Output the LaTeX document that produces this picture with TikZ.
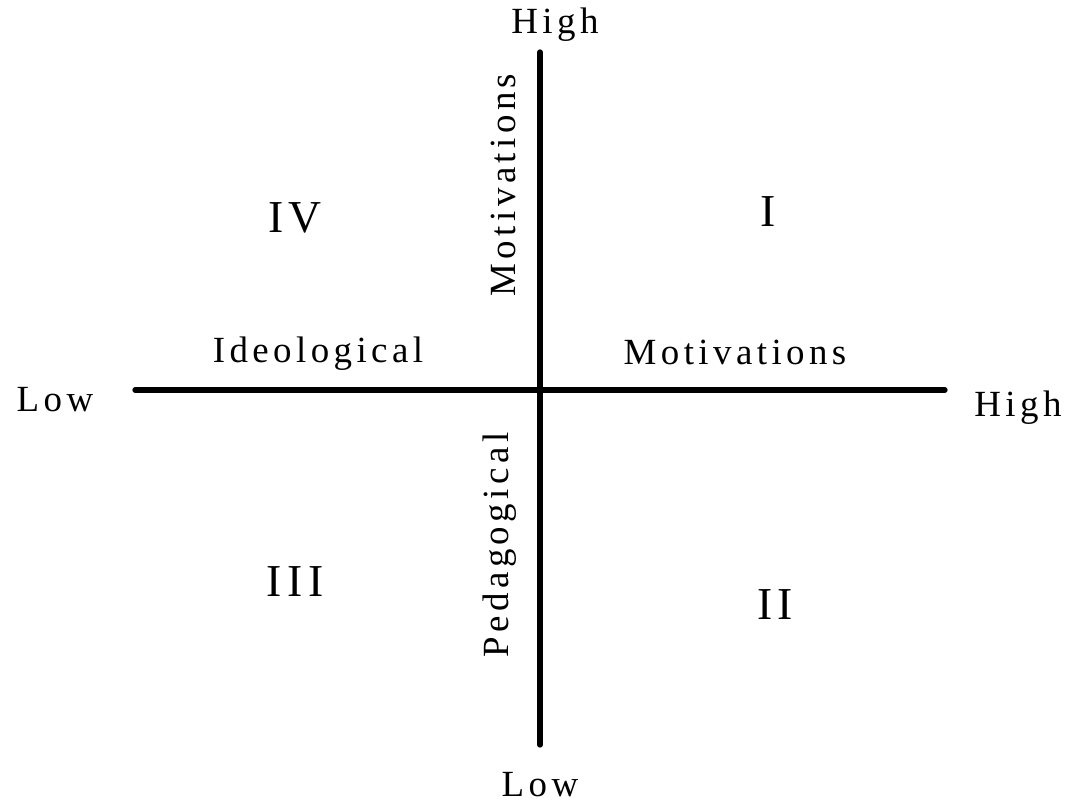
\documentclass[tikz,border=0pt]{standalone}
\usepackage{fontspec}
\setmainfont[LetterSpace=12]{Liberation Serif}
\usepackage{tikz}
\tikzset{
  axis/.style={line width=3pt, line cap=round, black},
  lbl/.style ={inner sep=0pt, font=\fontsize{21}{24}\selectfont},
  quad/.style={inner sep=0pt, font=\fontsize{26}{30}\selectfont},
}

\begin{document}
\begin{tikzpicture}
        \useasboundingbox (-10.8,-8.3) rectangle (10.7,7.8);
        \coordinate (L) at (-8.1,0);
        \coordinate (R) at (8.1,0);
        \coordinate (T) at (0,6.76);
        \coordinate (B) at (0,-7.1);
        \draw[axis] (L) -- (R);
        \draw[axis] (T) -- (B);
        \node[lbl] (hightop) at (0.3,7.3)    {High};
        \node[lbl] (lowbot)  at (0,-7.9)     {Low};
        \node[lbl] (lowleft) at (-9.7,-0.2)  {Low};
        \node[lbl] (highrt)  at (9.56,-0.36) {High};
        \node[lbl, rotate=90] (motv) at (-0.74,4.1)  {Motivations};
        \node[lbl, rotate=90] (ped)  at (-0.8,-3.1)  {Pedagogical};
        \node[lbl] (ideo) at (-4.44,0.72) {Ideological};
        \node[lbl] (moth) at (3.9,0.76)   {Motivations};
        \node[quad] (qIV)  at (-4.9,3.44)  {IV};
        \node[quad] (qI)   at (4.56,3.56)  {I};
        \node[quad] (qIII) at (-4.9,-3.84) {III};
        \node[quad] (qII)  at (4.7,-4.3)   {II};
      \end{tikzpicture}
\end{document}
